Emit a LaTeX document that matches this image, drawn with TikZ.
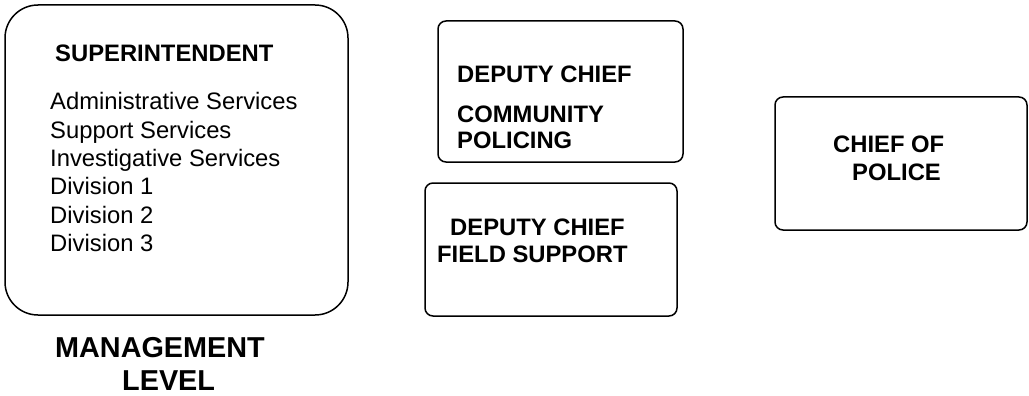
\documentclass[tikz,border=0pt]{standalone}
\usepackage{fontspec}
\setmainfont{Liberation Sans}
\begin{document}
\begin{tikzpicture}[x=1pt,y=-1pt,
  box/.style={draw, line width=1.5pt, rounded corners=8pt, inner sep=0pt},
  lbl/.style={anchor=base west, inner sep=0pt, font=\fontsize{23.8}{28}\selectfont},
  hd/.style={anchor=base west, inner sep=0pt, font=\fontsize{23.8}{28}\selectfont\bfseries},
  big/.style={anchor=base west, inner sep=0pt, font=\fontsize{28.8}{33}\selectfont\bfseries}]
\useasboundingbox (0,0) rectangle (1029,396);
% boxes
\node[box, rounded corners=33pt, minimum width=343pt, minimum height=310pt] (supbox) at (176.5,160) {};
\node[box, minimum width=245pt, minimum height=141pt] (cpbox) at (560.5,91.5) {};
\node[box, minimum width=252pt, minimum height=133pt] (fsbox) at (551,249.5) {};
\node[box, minimum width=252pt, minimum height=133pt] (cobox) at (901,163.5) {};
% superintendent box text
\node[hd] (sup) at (55,62) {SUPERINTENDENT};
\node[lbl] (l1) at (50,110) {Administrative Services};
\node[lbl] (l2) at (50,138.3) {Support Services};
\node[lbl] (l3) at (50,166.6) {Investigative Services};
\node[lbl] (l4) at (50,194.9) {Division 1};
\node[lbl] (l5) at (50,223.2) {Division 2};
\node[lbl] (l6) at (50,251.5) {Division 3};
% deputy chief community policing
\node[hd] (cp1) at (457,82) {DEPUTY CHIEF};
\node[hd] (cp2) at (457,122) {COMMUNITY};
\node[hd] (cp3) at (457,148) {POLICING};
% deputy chief field support
\node[hd] (fs1) at (450,235) {DEPUTY CHIEF};
\node[hd] (fs2) at (437,262) {FIELD SUPPORT};
% chief of police
\node[hd] (co1) at (833,153) {CHIEF OF};
\node[hd] (co2) at (852,180) {POLICE};
% management level
\node[big] (ml1) at (55,357) {MANAGEMENT};
\node[big] (ml2) at (122,390) {LEVEL};
\end{tikzpicture}
\end{document}
